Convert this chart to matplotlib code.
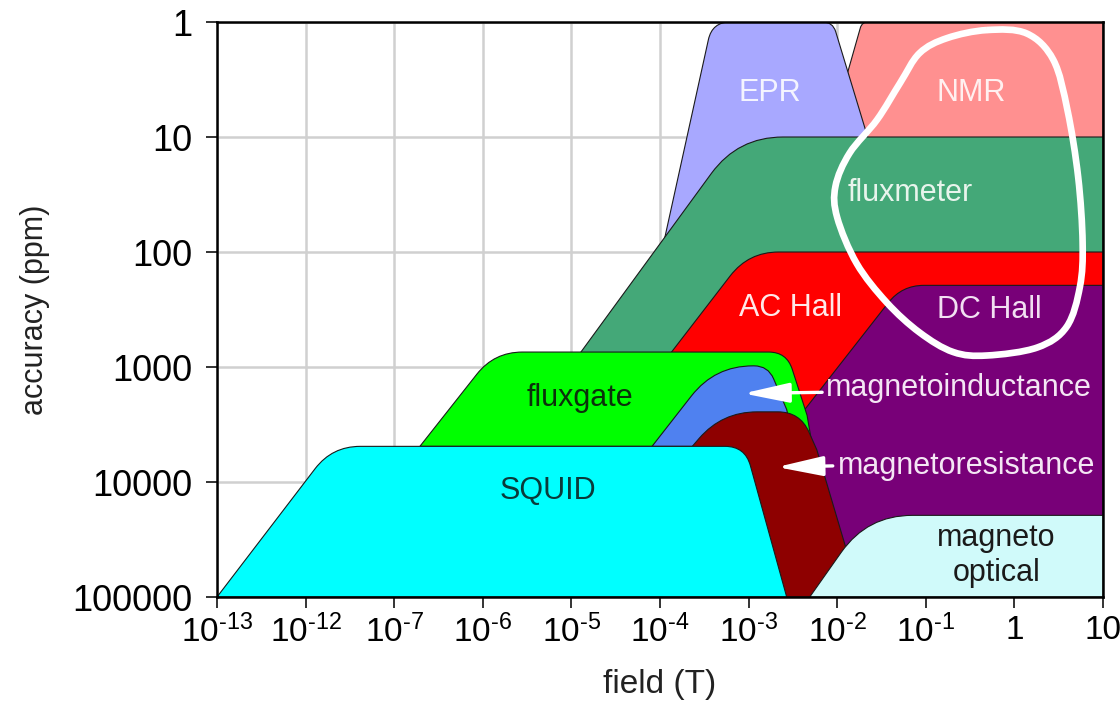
import numpy as np
import matplotlib
matplotlib.use('Agg')
import matplotlib.pyplot as plt
from matplotlib.path import Path
from matplotlib.patches import PathPatch

plt.rcParams['font.family'] = ['Liberation Sans', 'DejaVu Sans']
plt.rcParams['mathtext.fontset'] = 'custom'
plt.rcParams['mathtext.rm'] = 'Liberation Sans'
plt.rcParams['mathtext.it'] = 'Liberation Sans:italic'

# x = slot on the field axis (one slot per tick), y = log10(accuracy / ppm)
field_ticks = ['$\\mathregular{10^{\u2010 13}}$', '$\\mathregular{10^{\u2010 12}}$', '$\\mathregular{10^{\u2010 7}}$',
               '$\\mathregular{10^{\u2010 6}}$', '$\\mathregular{10^{\u2010 5}}$', '$\\mathregular{10^{\u2010 4}}$',
               '$\\mathregular{10^{\u2010 3}}$', '$\\mathregular{10^{\u2010 2}}$', '$\\mathregular{10^{\u2010 1}}$',
               '1', '10']
accuracy_ticks = ['1', '10', '100', '1000', '10000', '100000']

nmr_x = [6.87, 7.28, 10.0, 10.0]
nmr_y = [1.11, 0.00, 0.00, 1.11]

epr_x = [4.95, 5.59, 6.95, 7.56]
epr_y = [2.24, 0.00, 0.00, 1.55]

fluxmeter_x = [3.88, 5.88, 10.0, 10.0]
fluxmeter_y = [3.11, 1.00, 1.00, 3.11]

ac_hall_x = [4.54, 6.00, 10.0, 10.0]
ac_hall_y = [3.46, 2.00, 2.00, 3.46]

dc_hall_x = [6.37, 7.73, 10.0, 10.0, 6.81]
dc_hall_y = [3.63, 2.29, 2.29, 5.00, 5.00]

fluxgate_x = [2.29, 3.13, 6.43, 6.66, 6.72]
fluxgate_y = [3.69, 2.87, 2.87, 3.42, 3.69]

minduct_x = [4.91, 5.62, 6.22, 6.43, 6.52]
minduct_y = [3.69, 2.99, 2.99, 3.37, 3.69]

mresist_x = [5.45, 5.23, 5.70, 6.58, 6.77, 7.12, 6.92]
mresist_y = [5.00, 3.81, 3.39, 3.39, 3.72, 4.63, 5.00]

squid_x = [0.00, 1.30, 5.96, 6.43]
squid_y = [5.00, 3.69, 3.69, 5.00]

moptical_x = [6.69, 7.34, 10.0, 10.0]
moptical_y = [5.00, 4.29, 4.29, 5.00]

loop_x = [8.69, 9.14, 9.44, 9.60, 9.72, 9.77, 9.74, 9.59, 9.26, 8.69, 8.31,
          7.93, 7.56, 7.22, 7.00, 6.98, 7.14, 7.45, 7.71, 7.93, 8.24]
loop_y = [0.07, 0.10, 0.33, 0.77, 1.35, 1.92, 2.30, 2.65, 2.83, 2.90, 2.87,
          2.70, 2.44, 2.10, 1.70, 1.43, 1.14, 0.85, 0.53, 0.27, 0.14]

# (x, y, corner radii in px, colour), drawn back to front
regions = [
    (nmr_x, nmr_y, [0, 6, 0, 0], '#FF9090'),
    (epr_x, epr_y, [0, 18, 10, 0], '#A8A8FF'),
    (fluxmeter_x, fluxmeter_y, [0, 45, 0, 0], '#44A878'),
    (ac_hall_x, ac_hall_y, [0, 30, 0, 0], '#FF0000'),
    (dc_hall_x, dc_hall_y, [0, 22, 0, 0, 0], '#780078'),
    (fluxgate_x, fluxgate_y, [0, 28, 18, 0, 0], '#00FF00'),
    (minduct_x, minduct_y, [0, 38, 14, 0, 0], '#4F81F0'),
    (mresist_x, mresist_y, [0, 0, 35, 22, 0, 0, 0], '#8E0000'),
    (squid_x, squid_y, [0, 28, 20, 0], '#00FFFF'),
    (moptical_x, moptical_y, [0, 45, 0, 0], '#D0FAFA'),
]


def rounded_path(ax, xs, ys, radii):
    pts = ax.transData.transform(np.column_stack([xs, ys]))
    n = len(pts)
    verts, codes = [], []
    for i in range(n):
        p = pts[i]
        r = radii[i]
        if r == 0:
            verts.append(p)
            codes.append(Path.LINETO)
            continue
        a, b = pts[i - 1], pts[(i + 1) % n]
        u = (a - p) / np.hypot(*(a - p))
        w = (b - p) / np.hypot(*(b - p))
        verts += [p + r * u, p, p + r * w]
        codes += [Path.LINETO, Path.CURVE3, Path.CURVE3]
    codes[0] = Path.MOVETO
    verts.append(verts[0])
    codes.append(Path.CLOSEPOLY)
    return Path(ax.transData.inverted().transform(np.array(verts)), codes)


def closed_curve(xs, ys):
    p = np.column_stack([xs, ys])
    n = len(p)
    verts, codes = [p[0]], [Path.MOVETO]
    for i in range(n):
        p0, p1, p2, p3 = p[i - 1], p[i], p[(i + 1) % n], p[(i + 2) % n]
        verts += [p1 + (p2 - p0) / 6, p2 - (p3 - p1) / 6, p2]
        codes += [Path.CURVE4] * 3
    return Path(verts, codes)


fig = plt.figure(figsize=(11.2, 7.02), dpi=100)
ax = fig.add_axes([0.19375, 0.14957, 0.79107, 0.81909])
ax.set_xlim(0, 10)
ax.set_ylim(5, 0)

for i, (xs, ys, radii, color) in enumerate(regions):
    patch = PathPatch(rounded_path(ax, xs, ys, radii), facecolor=color,
                      edgecolor='#1a1a1a', lw=0.8, zorder=1 + i * 0.1)
    ax.add_patch(patch)

ax.set_xticks(range(len(field_ticks)))
ax.set_xticklabels(field_ticks)
ax.set_yticks(range(len(accuracy_ticks)))
ax.set_yticklabels(accuracy_ticks)
ax.grid(True, color='#d0d0d0', lw=1.8)
ax.set_axisbelow(True)
ax.tick_params(direction='out', length=8, width=1.4, labelsize=24, pad=5, color='#333333')
ax.tick_params(axis='y', pad=10, labelsize=26)
for s in ax.spines.values():
    s.set_linewidth(1.8)
    s.set_zorder(3)

ax.set_xlabel('field (T)', fontsize=24, labelpad=14, color='#222222')
ax.set_ylabel('accuracy (ppm)', fontsize=22, labelpad=16, color='#222222')

labels = [
    ('EPR', 6.24, 0.62, '#F4F4FF', 'center'),
    ('NMR', 8.51, 0.62, '#FFF0F0', 'center'),
    ('fluxmeter', 7.82, 1.49, '#E8F4EC', 'center'),
    ('AC Hall', 6.47, 2.49, '#FFE8E8', 'center'),
    ('DC Hall', 8.72, 2.50, '#F2E0F2', 'center'),
    ('fluxgate', 4.10, 3.27, '#0B300B', 'center'),
    ('SQUID', 3.74, 4.08, '#0A3A3A', 'center'),
    ('magnetoinductance', 6.87, 3.18, '#F4E6F4', 'left'),
    ('magnetoresistance', 7.01, 3.86, '#F4E6F4', 'left'),
    ('magneto\noptical', 8.80, 4.64, '#1a1a1a', 'center'),
]
for text, x, y, color, ha in labels:
    ax.text(x, y, text, fontsize=22, color=color, ha=ha, va='center',
            linespacing=1.2, zorder=4)

arrows = [((6.83, 3.22), (5.94, 3.23)), ((6.95, 3.86), (6.32, 3.87))]
for tail, tip in arrows:
    ax.annotate('', xy=tip, xytext=tail, zorder=4,
                arrowprops=dict(arrowstyle='-|>,head_length=1.4,head_width=0.3',
                                mutation_scale=20, color='white', lw=2.4,
                                shrinkA=0, shrinkB=0))

ax.add_patch(PathPatch(closed_curve(loop_x, loop_y), facecolor='none',
                       edgecolor='white', lw=4.8, zorder=5))

fig.savefig('out.png', dpi=100)
